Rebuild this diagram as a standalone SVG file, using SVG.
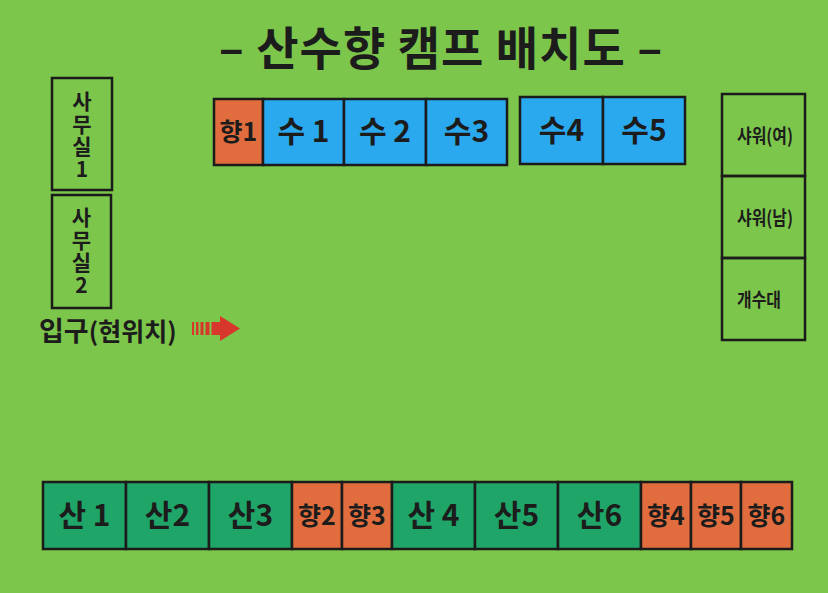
<svg xmlns="http://www.w3.org/2000/svg" width="828" height="593" viewBox="0 0 828 593">
<style>
.box{stroke:#1b1b1b;stroke-width:2.5}
.o{fill:#e16d3e}
.b{fill:#2aa9ef}
.g{fill:#1fa568}
.n{fill:none}
text{font-family:"Noto Sans CJK KR","Noto Sans",sans-serif;fill:#1c1c1c;font-weight:bold}
.lab{font-size:30px;text-anchor:middle}
.hy{font-size:25px;text-anchor:middle}
.v{font-size:21px;font-weight:600;writing-mode:vertical-rl;text-orientation:upright;letter-spacing:1.5px}
.r{font-size:19px;font-weight:600}
</style>
<rect x="0" y="0" width="828" height="593" fill="#7cc64b"/>
<text x="441" y="65" font-size="46" font-weight="900" text-anchor="middle" letter-spacing="1">– 산수향 캠프 배치도 –</text>

<g id="top-row">
<g id="hyang1"><rect class="box o" x="214" y="99" width="49" height="66"/><text class="hy" x="238.5" y="141">향1</text></g>
<g id="su1"><rect class="box b" x="263" y="99" width="81" height="66"/><text class="lab" x="303.5" y="142">수 1</text></g>
<g id="su2"><rect class="box b" x="344" y="99" width="82" height="66"/><text class="lab" x="385" y="142">수 2</text></g>
<g id="su3"><rect class="box b" x="426" y="99" width="81" height="66"/><text class="lab" x="466.5" y="142">수3</text></g>
<g id="su4"><rect class="box b" x="520" y="97" width="83" height="67"/><text class="lab" x="561.5" y="141">수4</text></g>
<g id="su5"><rect class="box b" x="603" y="97" width="82" height="67"/><text class="lab" x="644" y="141">수5</text></g>
</g>

<g id="office1"><rect class="box n" x="52" y="78" width="60" height="112"/>
<text class="v" x="82" y="91">사무실1</text></g>
<g id="office2"><rect class="box n" x="52" y="195" width="59" height="113"/>
<text class="v" x="81.5" y="207">사무실2</text></g>

<g id="entrance">
<text x="39" y="341" font-size="27">입구<tspan font-size="25" font-weight="600">(현위치)</tspan></text>
<g fill="#d8372c">
<rect x="192" y="322" width="2" height="13"/>
<rect x="196" y="322" width="2.5" height="13"/>
<rect x="200.5" y="322" width="3" height="13"/>
<rect x="205.5" y="322" width="4" height="13"/>
<rect x="211.5" y="322" width="9" height="13"/>
<polygon points="220,316 240,328.5 220,341"/>
</g>
</g>

<g id="shower-f"><rect class="box n" x="722" y="94" width="83" height="82"/><text class="r" x="737" y="143" textLength="56" lengthAdjust="spacingAndGlyphs">샤워(여)</text></g>
<g id="shower-m"><rect class="box n" x="722" y="176" width="83" height="82"/><text class="r" x="737" y="225" textLength="56" lengthAdjust="spacingAndGlyphs">샤워(남)</text></g>
<g id="sink"><rect class="box n" x="722" y="258" width="83" height="82"/><text class="r" x="737" y="307" textLength="44" lengthAdjust="spacingAndGlyphs">개수대</text></g>

<g id="bottom-row">
<g id="san1"><rect class="box g" x="43" y="482" width="83" height="67"/><text class="lab" x="84.5" y="526">산 1</text></g>
<g id="san2"><rect class="box g" x="126" y="482" width="83" height="67"/><text class="lab" x="167.5" y="526">산2</text></g>
<g id="san3"><rect class="box g" x="209" y="482" width="83" height="67"/><text class="lab" x="250.5" y="526">산3</text></g>
<g id="hyang2"><rect class="box o" x="292" y="482" width="50" height="67"/><text class="hy" x="317" y="525">향2</text></g>
<g id="hyang3"><rect class="box o" x="342" y="482" width="50" height="67"/><text class="hy" x="367" y="525">향3</text></g>
<g id="san4"><rect class="box g" x="392" y="482" width="83" height="67"/><text class="lab" x="433.5" y="526">산 4</text></g>
<g id="san5"><rect class="box g" x="475" y="482" width="83" height="67"/><text class="lab" x="516.5" y="526">산5</text></g>
<g id="san6"><rect class="box g" x="558" y="482" width="83" height="67"/><text class="lab" x="599.5" y="526">산6</text></g>
<g id="hyang4"><rect class="box o" x="641" y="482" width="50" height="67"/><text class="hy" x="666" y="525">향4</text></g>
<g id="hyang5"><rect class="box o" x="691" y="482" width="50" height="67"/><text class="hy" x="716" y="525">향5</text></g>
<g id="hyang6"><rect class="box o" x="741" y="482" width="51" height="67"/><text class="hy" x="766.5" y="525">향6</text></g>
</g>
<g id="connectors"/>
</svg>
